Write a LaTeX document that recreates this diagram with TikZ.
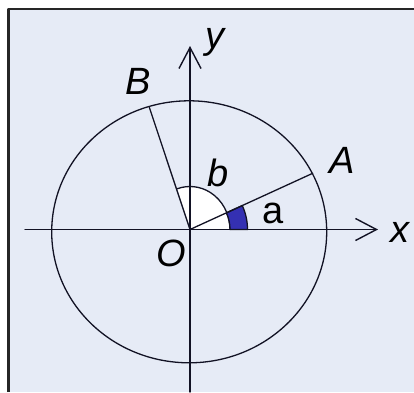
\documentclass[tikz,border=0pt]{standalone}
\usepackage{fontspec}
\setmainfont{Liberation Sans}
\usetikzlibrary{arrows.meta}
\definecolor{panelbg}{RGB}{230,235,246}
\definecolor{wedgeblue}{RGB}{52,48,178}
\definecolor{inkline}{RGB}{18,18,36}
\tikzset{
  axisline/.style={line width=1.4pt,draw=inkline,->},
  unitline/.style={line width=1.3pt,draw=inkline},
  lbl/.style={inner sep=0pt,text=black,font=\fontsize{38}{42}\selectfont\itshape}
}
\begin{document}
\begin{tikzpicture}[x=1pt,y=1pt,line cap=round,line join=round,>={Straight Barb[length=21pt,width=22pt]},every node/.style={inner sep=1pt}]
  \useasboundingbox (-190,-162.5) rectangle (224,229.5);
  \fill[white] (-190,-162.5) rectangle (224,229.5);
  \fill[panelbg] (-181.5,-162.5) rectangle (224,220.2);
  \draw[line width=2.2pt,black!85,line cap=butt] (-181.5,-162.5) -- (-181.5,220.2) -- (224,220.2);
  \coordinate (O) at (0,0);
  \coordinate (A) at (122.7,56.2);
  \coordinate (B) at (-40.7,122.2);
  \coordinate (xs) at (-165,0);
  \coordinate (xe) at (188,0);
  \coordinate (ys) at (0,-162.5);
  \coordinate (ye) at (0,183.5);
  \fill[white] (O) -- (40,0) arc[start angle=0,end angle=108.4,x radius=40,y radius=43] -- cycle;
  \draw[unitline] (40,0) arc[start angle=0,end angle=108.4,x radius=40,y radius=43];
  \filldraw[unitline,fill=wedgeblue] (40,0) -- (57.5,0) arc[start angle=0,end angle=24.6,radius=57.5] -- (24.6:40) arc[start angle=24.6,end angle=0,radius=40] -- cycle;
  \draw[unitline] (-0.8,-2.3) ellipse[x radius=137.5,y radius=131];
  \draw[axisline] (xs) -- (xe);
  \draw[axisline] (ys) -- (ye);
  \draw[unitline] (O) -- (A);
  \draw[unitline] (O) -- (B);
  \node[lbl] (xlbl) at (210,-2.5) {x};
  \node[lbl] (ylbl) at (25,187.5) {y};
  \node[lbl] (Albl) at (151.7,69.5) {A};
  \node[lbl] (Blbl) at (-52,147.8) {B};
  \node[lbl] (blbl) at (28,56.5) {b};
  \node[lbl,font=\fontsize{38}{42}\selectfont\upshape] (albl) at (83,16.5) {a};
  \node[lbl] (Olbl) at (-18.3,-23.5) {O};
\end{tikzpicture}
\end{document}
